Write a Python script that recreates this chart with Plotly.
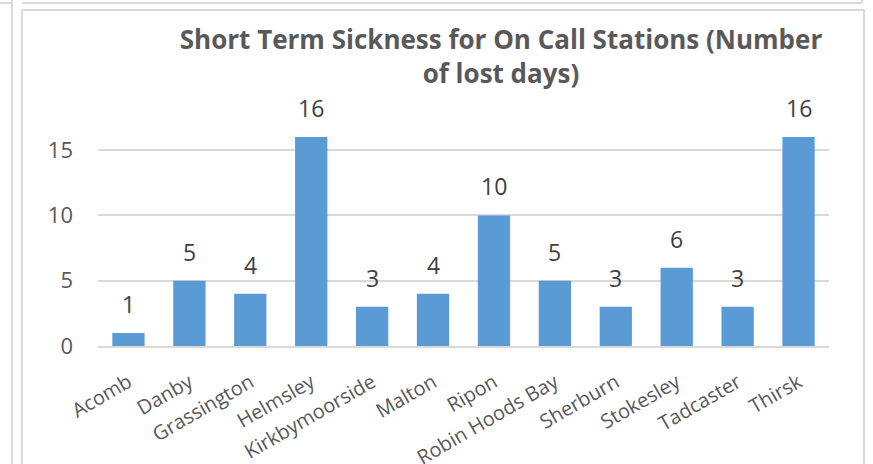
import plotly.graph_objects as go

stations = ["Acomb", "Danby", "Grassington", "Helmsley", "Kirkbymoorside", "Malton",
            "Ripon", "Robin Hoods Bay", "Sherburn", "Stokesley", "Tadcaster", "Thirsk"]
lost_days = [1, 5, 4, 16, 3, 4, 10, 5, 3, 6, 3, 16]
y_ticks = [0, 5, 10, 15]

W, H = 873, 464
L, R, T, B = 98, 44, 111, 118
PW, PH = W - L - R, H - T - B


def px(x):
    return (x - L) / PW


def py(y):
    return (H - B - y) / PH


fig = go.Figure()
fig.add_trace(go.Bar(
    x=stations,
    y=lost_days,
    marker=dict(color="#5b9bd5", line=dict(width=0)),
))

# value labels sit a little higher above the bars than plotly's outside text
for name, val in zip(stations, lost_days):
    fig.add_annotation(x=name, y=val, text=str(val), showarrow=False,
                       yanchor="bottom", yshift=11,
                       font=dict(size=23, color="#404040", family="Open Sans"))

# chart frame lines (screenshot borders)
frame = "#d9d9d9"
borders = [
    (12, 0, 12, H), (22, 10, 22, H), (22, 10, 864, 10), (864, 10, 864, H),
    (0, 3, 12, 3), (22, 3, 862, 3), (862, 0, 862, 3),
]
for x0, y0, x1, y1 in borders:
    fig.add_shape(type="line", xref="paper", yref="paper",
                  x0=px(x0), y0=py(y0), x1=px(x1), y1=py(y1),
                  line=dict(color=frame, width=2))

fig.update_layout(
    width=W, height=H,
    margin=dict(l=L, r=R, t=T, b=B, autoexpand=False),
    paper_bgcolor="white", plot_bgcolor="white",
    showlegend=False,
    bargap=0.47,
    font=dict(family="Open Sans", color="#595959"),
    title=dict(text="<b>Short Term Sickness for On Call Stations (Number<br>of lost days)</b>",
               xref="container", x=501 / W, xanchor="center",
               yref="container", y=1 - 49 / H, yanchor="top",
               font=dict(size=26, color="#595959", family="Open Sans")),
    xaxis=dict(tickangle=-30, tickfont=dict(size=20, color="#595959"),
               showline=True, linecolor="#d9d9d9", linewidth=2, ticks="",
               automargin=False, ticklabelstandoff=15),
    yaxis=dict(range=[0, 18], tickvals=y_ticks, showgrid=True, gridcolor="#d9d9d9",
               gridwidth=2, zeroline=False, tickfont=dict(size=22, color="#595959"),
               ticks="", ticklabelstandoff=24, automargin=False),
)

# drop the page's default body margin so the figure starts at the window corner
fig.write_html("out.html", config={"displayModeBar": False},
               post_script="document.body.style.margin='0';")
